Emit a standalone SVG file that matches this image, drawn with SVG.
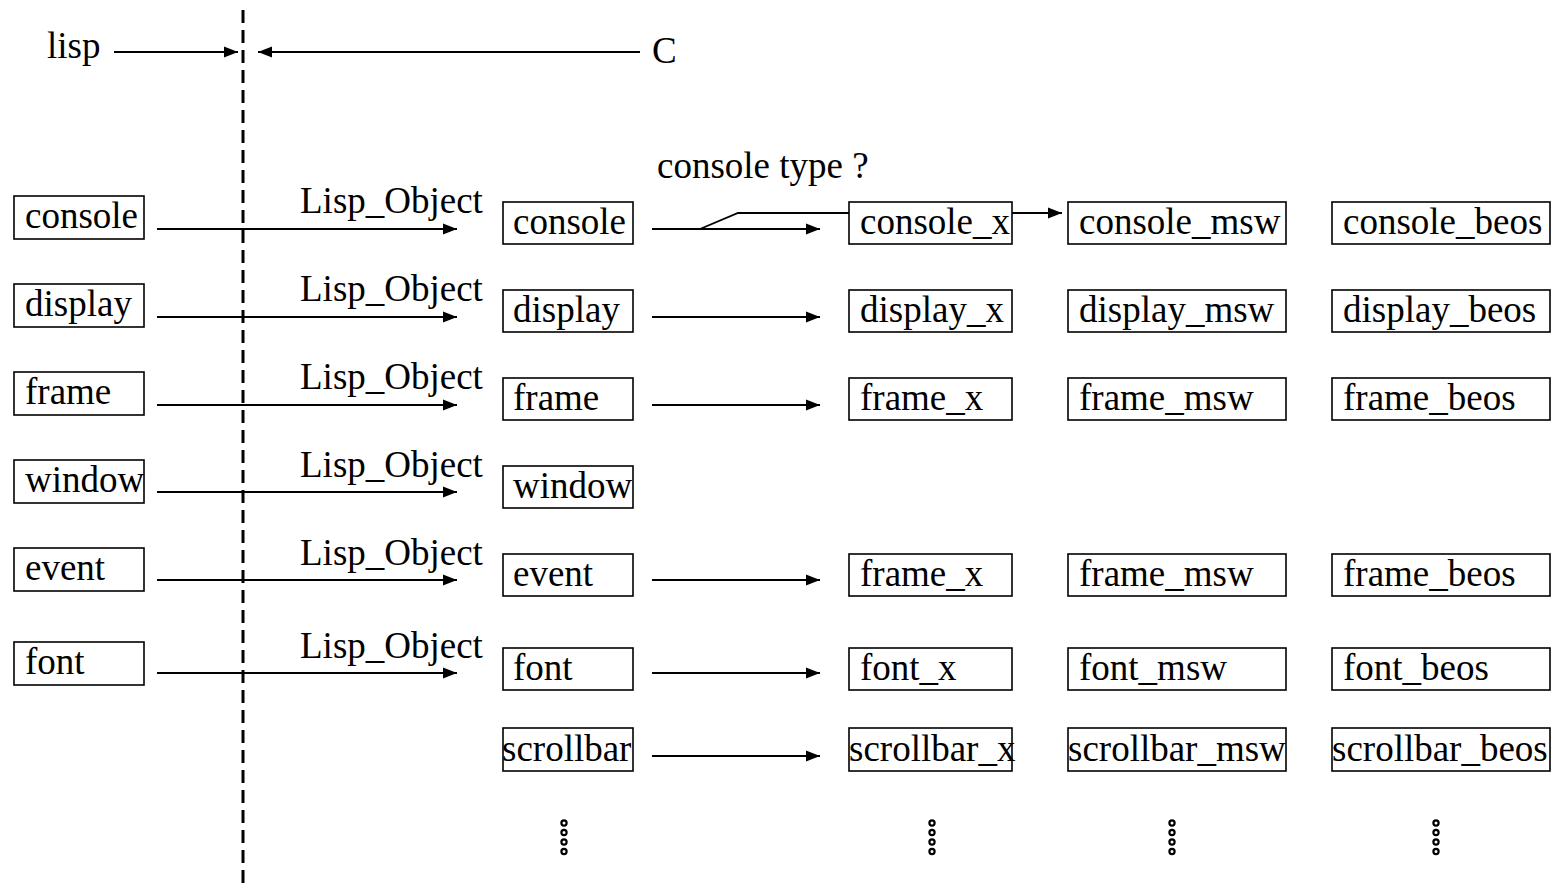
<svg xmlns="http://www.w3.org/2000/svg" width="1555" height="887" viewBox="0 0 1555 887">
  <defs>
    <style>
      text { font-family: "Liberation Serif", "Times New Roman", serif; font-size: 37px; fill: #000; }
      .box rect { fill: #fff; stroke: #000; stroke-width: 1.6; }
      .wire { fill: none; stroke: #000; stroke-width: 1.8; }
      .dot { fill: #fff; stroke: #000; stroke-width: 2.2; }
    </style>
    <marker id="arrow" markerUnits="userSpaceOnUse" markerWidth="15" markerHeight="13" viewBox="0 0 15 13" refX="14" refY="6.5" orient="auto">
      <path d="M0,1 L14,6.5 L0,12 Z" fill="#000"/>
    </marker>
  </defs>

  <!-- boundary between lisp and C -->
  <g id="boundary">
    <line x1="243" y1="10" x2="243" y2="887" stroke="#000" stroke-width="3" stroke-dasharray="13 7"/>
    <text x="47" y="58">lisp</text>
    <text x="652" y="63">C</text>
  </g>

  <!-- connectors -->
  <g id="connectors">
    <line class="wire" x1="114" y1="52" x2="238" y2="52" marker-end="url(#arrow)"/>
    <line class="wire" x1="640" y1="52" x2="258" y2="52" marker-end="url(#arrow)"/>

    <line class="wire" x1="157" y1="229" x2="457" y2="229" marker-end="url(#arrow)"/>
    <line class="wire" x1="157" y1="317" x2="457" y2="317" marker-end="url(#arrow)"/>
    <line class="wire" x1="157" y1="405" x2="457" y2="405" marker-end="url(#arrow)"/>
    <line class="wire" x1="157" y1="492" x2="457" y2="492" marker-end="url(#arrow)"/>
    <line class="wire" x1="157" y1="580" x2="457" y2="580" marker-end="url(#arrow)"/>
    <line class="wire" x1="157" y1="673" x2="457" y2="673" marker-end="url(#arrow)"/>

    <line class="wire" x1="652" y1="229" x2="820" y2="229" marker-end="url(#arrow)"/>
    <polyline class="wire" points="700,229 738,213 849,213"/>
    <line class="wire" x1="1012" y1="213" x2="1062" y2="213" marker-end="url(#arrow)"/>
    <line class="wire" x1="652" y1="317" x2="820" y2="317" marker-end="url(#arrow)"/>
    <line class="wire" x1="652" y1="405" x2="820" y2="405" marker-end="url(#arrow)"/>
    <line class="wire" x1="652" y1="580" x2="820" y2="580" marker-end="url(#arrow)"/>
    <line class="wire" x1="652" y1="673" x2="820" y2="673" marker-end="url(#arrow)"/>
    <line class="wire" x1="652" y1="756" x2="820" y2="756" marker-end="url(#arrow)"/>
  </g>

  <!-- connector labels -->
  <g id="labels">
    <text x="300" y="213">Lisp_Object</text>
    <text x="300" y="301">Lisp_Object</text>
    <text x="300" y="389">Lisp_Object</text>
    <text x="300" y="477">Lisp_Object</text>
    <text x="300" y="565">Lisp_Object</text>
    <text x="300" y="658">Lisp_Object</text>
    <text x="657" y="178">console type ?</text>
  </g>

  <!-- lisp side objects -->
  <g id="lisp-console" class="box"><rect x="14" y="196" width="130" height="43"/><text x="25" y="228">console</text></g>
  <g id="lisp-display" class="box"><rect x="14" y="284" width="130" height="43"/><text x="25" y="316">display</text></g>
  <g id="lisp-frame" class="box"><rect x="14" y="372" width="130" height="43"/><text x="25" y="404">frame</text></g>
  <g id="lisp-window" class="box"><rect x="14" y="460" width="130" height="43"/><text x="25" y="492">window</text></g>
  <g id="lisp-event" class="box"><rect x="14" y="548" width="130" height="43"/><text x="25" y="580">event</text></g>
  <g id="lisp-font" class="box"><rect x="14" y="642" width="130" height="43"/><text x="25" y="674">font</text></g>

  <!-- C structures -->
  <g id="c-console" class="box"><rect x="503" y="202" width="130" height="42"/><text x="513" y="234">console</text></g>
  <g id="c-display" class="box"><rect x="503" y="290" width="130" height="42"/><text x="513" y="322">display</text></g>
  <g id="c-frame" class="box"><rect x="503" y="378" width="130" height="42"/><text x="513" y="410">frame</text></g>
  <g id="c-window" class="box"><rect x="503" y="466" width="130" height="42"/><text x="513" y="498">window</text></g>
  <g id="c-event" class="box"><rect x="503" y="554" width="130" height="42"/><text x="513" y="586">event</text></g>
  <g id="c-font" class="box"><rect x="503" y="648" width="130" height="42"/><text x="513" y="680">font</text></g>
  <g id="c-scrollbar" class="box"><rect x="503" y="728" width="130" height="43"/><text x="502" y="761">scrollbar</text></g>

  <!-- X window system -->
  <g id="x-console" class="box"><rect x="849" y="202" width="163" height="42"/><text x="860" y="234">console_x</text></g>
  <g id="x-display" class="box"><rect x="849" y="290" width="163" height="42"/><text x="860" y="322">display_x</text></g>
  <g id="x-frame" class="box"><rect x="849" y="378" width="163" height="42"/><text x="860" y="410">frame_x</text></g>
  <g id="x-event" class="box"><rect x="849" y="554" width="163" height="42"/><text x="860" y="586">frame_x</text></g>
  <g id="x-font" class="box"><rect x="849" y="648" width="163" height="42"/><text x="860" y="680">font_x</text></g>
  <g id="x-scrollbar" class="box"><rect x="849" y="728" width="163" height="43"/><text x="849" y="761">scrollbar_x</text></g>

  <!-- MS Windows -->
  <g id="msw-console" class="box"><rect x="1068" y="202" width="218" height="42"/><text x="1079" y="234">console_msw</text></g>
  <g id="msw-display" class="box"><rect x="1068" y="290" width="218" height="42"/><text x="1079" y="322">display_msw</text></g>
  <g id="msw-frame" class="box"><rect x="1068" y="378" width="218" height="42"/><text x="1079" y="410">frame_msw</text></g>
  <g id="msw-event" class="box"><rect x="1068" y="554" width="218" height="42"/><text x="1079" y="586">frame_msw</text></g>
  <g id="msw-font" class="box"><rect x="1068" y="648" width="218" height="42"/><text x="1079" y="680">font_msw</text></g>
  <g id="msw-scrollbar" class="box"><rect x="1068" y="728" width="218" height="43"/><text x="1068" y="761">scrollbar_msw</text></g>

  <!-- BeOS -->
  <g id="beos-console" class="box"><rect x="1332" y="202" width="218" height="42"/><text x="1343" y="234">console_beos</text></g>
  <g id="beos-display" class="box"><rect x="1332" y="290" width="218" height="42"/><text x="1343" y="322">display_beos</text></g>
  <g id="beos-frame" class="box"><rect x="1332" y="378" width="218" height="42"/><text x="1343" y="410">frame_beos</text></g>
  <g id="beos-event" class="box"><rect x="1332" y="554" width="218" height="42"/><text x="1343" y="586">frame_beos</text></g>
  <g id="beos-font" class="box"><rect x="1332" y="648" width="218" height="42"/><text x="1343" y="680">font_beos</text></g>
  <g id="beos-scrollbar" class="box"><rect x="1332" y="728" width="218" height="43"/><text x="1332" y="761">scrollbar_beos</text></g>

  <!-- continuation marks -->
  <g id="more">
    <g id="more-c"><circle class="dot" cx="564" cy="823" r="2.6"/><circle class="dot" cx="564" cy="832.5" r="2.6"/><circle class="dot" cx="564" cy="842" r="2.6"/><circle class="dot" cx="564" cy="851.5" r="2.6"/></g>
    <g id="more-x"><circle class="dot" cx="932" cy="823" r="2.6"/><circle class="dot" cx="932" cy="832.5" r="2.6"/><circle class="dot" cx="932" cy="842" r="2.6"/><circle class="dot" cx="932" cy="851.5" r="2.6"/></g>
    <g id="more-msw"><circle class="dot" cx="1172" cy="823" r="2.6"/><circle class="dot" cx="1172" cy="832.5" r="2.6"/><circle class="dot" cx="1172" cy="842" r="2.6"/><circle class="dot" cx="1172" cy="851.5" r="2.6"/></g>
    <g id="more-beos"><circle class="dot" cx="1436" cy="823" r="2.6"/><circle class="dot" cx="1436" cy="832.5" r="2.6"/><circle class="dot" cx="1436" cy="842" r="2.6"/><circle class="dot" cx="1436" cy="851.5" r="2.6"/></g>
  </g>
</svg>
